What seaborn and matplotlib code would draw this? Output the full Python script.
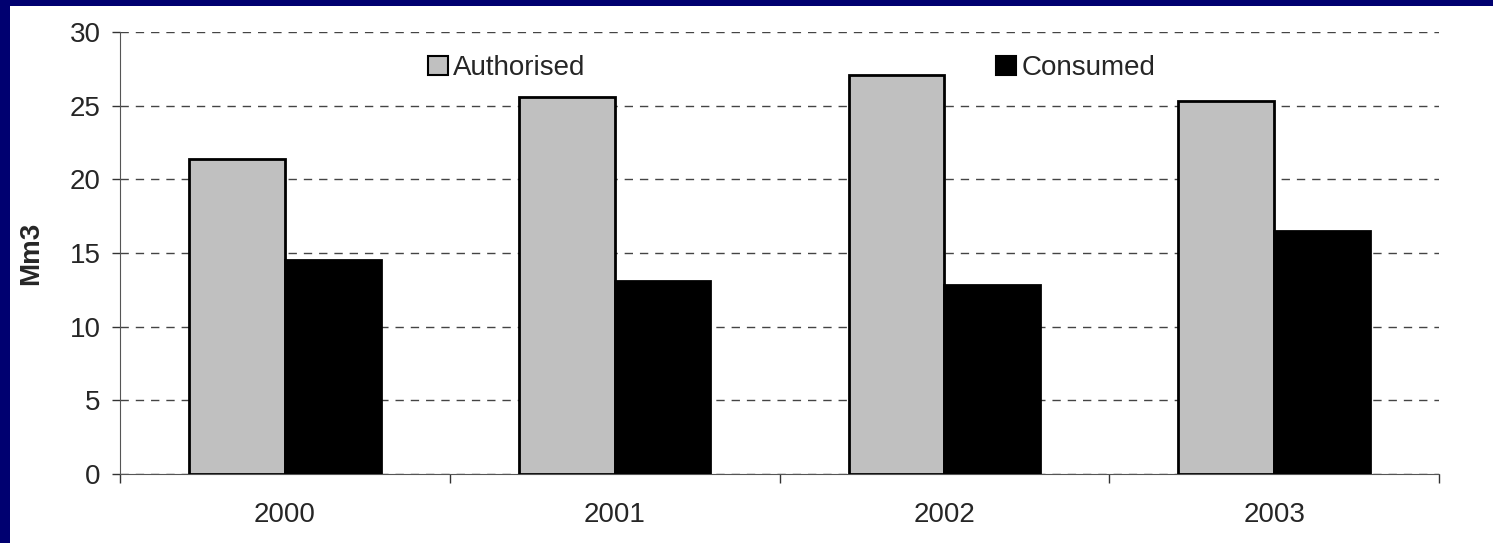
import matplotlib
matplotlib.use("Agg")
import matplotlib.pyplot as plt
import seaborn as sns
import pandas as pd
from matplotlib.patches import Rectangle

years = ["2000", "2001", "2002", "2003"]
authorised = [21.4, 25.6, 27.1, 25.3]
consumed = [14.5, 13.1, 12.8, 16.5]

df = pd.DataFrame({
    "year": years * 2,
    "value": authorised + consumed,
    "kind": ["Authorised"] * 4 + ["Consumed"] * 4,
})

sns.set_style("white")
plt.rcParams["font.family"] = ["Liberation Sans", "DejaVu Sans"]

fig = plt.figure(figsize=(14.93, 5.43), dpi=100, facecolor="#000070")
# white slide area inside the navy frame
fig.patches.append(Rectangle((10 / 1493, 0), 1, 1 - 6 / 543, transform=fig.transFigure,
                             facecolor="white", edgecolor="none", zorder=-5))
ax = fig.add_axes([120 / 1493, 1 - 474 / 543, (1439 - 120) / 1493, (474 - 32) / 543])
ax.set_facecolor("none")

sns.barplot(data=df, x="year", y="value", hue="kind", ax=ax,
            palette={"Authorised": "#c0c0c0", "Consumed": "black"},
            width=0.58, edgecolor="black", linewidth=2, saturation=1, zorder=3)

ax.set_ylim(0, 30)
ax.set_xlim(-0.5, 3.5)
ax.set_yticks(range(0, 31, 5))
ax.yaxis.grid(True, linestyle=(0, (6, 5)), color="#444444", linewidth=1, zorder=0)
ax.set_axisbelow(True)
for s in ["top", "right"]:
    ax.spines[s].set_visible(False)
ax.spines["left"].set_color("#555555")
ax.spines["bottom"].set_color("#555555")

ax.set_xticks(range(4))
ax.set_xticklabels(years, fontsize=20)
ax.tick_params(axis="x", which="major", bottom=True, length=0, pad=20)
ax.set_xticks([-0.5, 0.5, 1.5, 2.5, 3.5], minor=True)
ax.tick_params(axis="x", which="minor", bottom=True, length=6.5, color="#333333",
               width=1, direction="out")
ax.tick_params(axis="y", left=True, labelsize=20, length=6, color="#333333",
               width=1, direction="out", pad=8)
ax.set_xlabel("")
ax.set_ylabel("Mm3", fontsize=20, fontweight="bold", labelpad=18)

handles, labels = ax.get_legend_handles_labels()
ax.legend(handles, labels, loc="center left", bbox_to_anchor=(0.2335, 0.918), ncol=2,
          frameon=False, fontsize=20, handlelength=0.72, handleheight=0.72,
          handletextpad=0.18, columnspacing=14.8, borderpad=0, borderaxespad=0)
for h in ax.get_legend().legend_handles:
    h.set_linewidth(1.5)

fig.savefig("out.png", dpi=100, facecolor=fig.get_facecolor())
